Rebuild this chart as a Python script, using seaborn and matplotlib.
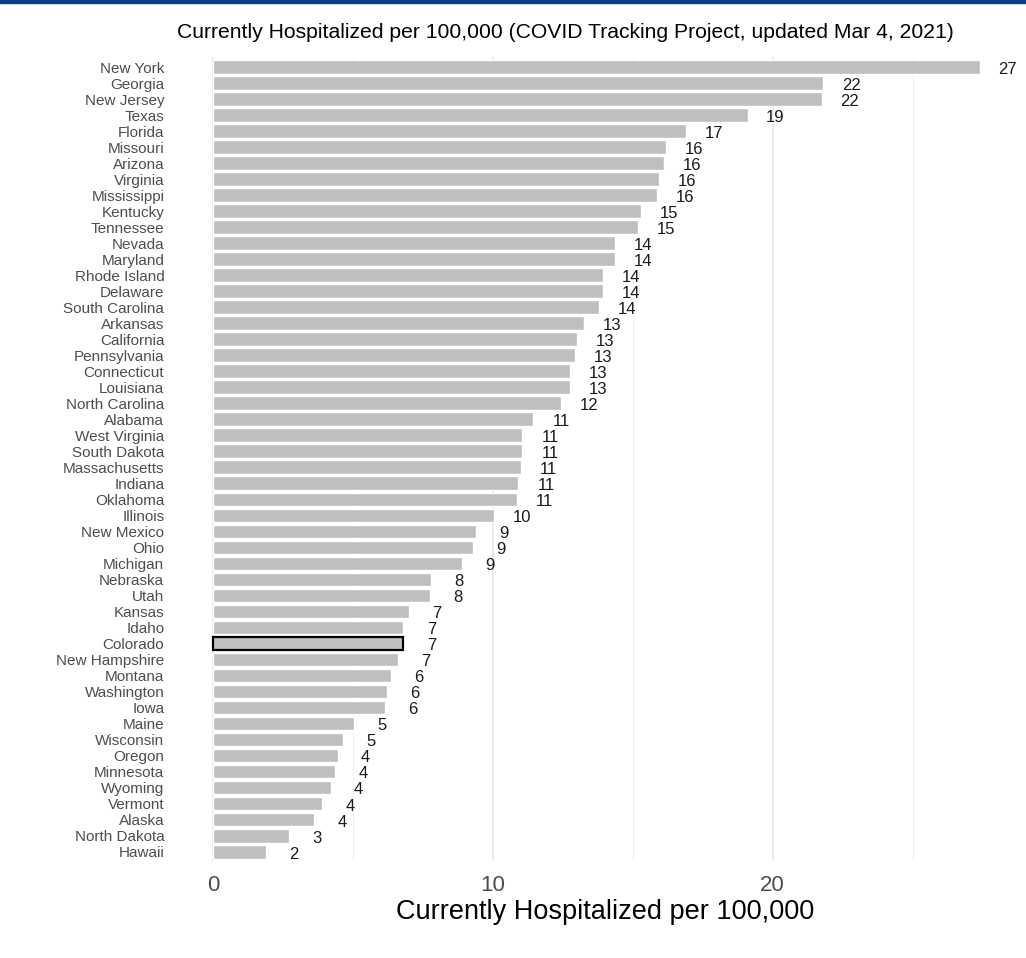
import matplotlib
matplotlib.use("Agg")
import matplotlib.pyplot as plt
import seaborn as sns
import pandas as pd

states = [
    "New York", "Georgia", "New Jersey", "Texas", "Florida", "Missouri",
    "Arizona", "Virginia", "Mississippi", "Kentucky", "Tennessee", "Nevada",
    "Maryland", "Rhode Island", "Delaware", "South Carolina", "Arkansas",
    "California", "Pennsylvania", "Connecticut", "Louisiana", "North Carolina",
    "Alabama", "West Virginia", "South Dakota", "Massachusetts", "Indiana",
    "Oklahoma", "Illinois", "New Mexico", "Ohio", "Michigan", "Nebraska",
    "Utah", "Kansas", "Idaho", "Colorado", "New Hampshire", "Montana",
    "Washington", "Iowa", "Maine", "Wisconsin", "Oregon", "Minnesota",
    "Wyoming", "Vermont", "Alaska", "North Dakota", "Hawaii",
]
hosp_per_100k = [
    27.4, 21.8, 21.75, 19.1, 16.9, 16.2,
    16.1, 15.95, 15.85, 15.3, 15.2, 14.35,
    14.35, 13.95, 13.95, 13.8, 13.25,
    13.0, 12.95, 12.75, 12.75, 12.45,
    11.45, 11.05, 11.05, 11.0, 10.9,
    10.85, 10.05, 9.4, 9.3, 8.9, 7.8,
    7.75, 7.0, 6.8, 6.8, 6.6, 6.35,
    6.2, 6.15, 5.05, 4.65, 4.45, 4.35,
    4.2, 3.9, 3.6, 2.7, 1.9,
]
highlight = "Colorado"

df = pd.DataFrame({"state": states, "value": hosp_per_100k})

sns.set_style("white")
plt.rcParams["font.family"] = ["Liberation Sans", "DejaVu Sans"]

fig = plt.figure(figsize=(10.26, 9.58), dpi=100)
ax = fig.add_axes([0.194, 0.101, 0.791, 0.839])

# grid first so bars sit on top
for gx in [0, 10, 20]:
    ax.axvline(gx, color="#e6e6e6", lw=1.1, zorder=0)
for gx in [5, 15, 25]:
    ax.axvline(gx, color="#efefef", lw=0.7, zorder=0)

sns.barplot(data=df, x="value", y="state", orient="h", color="#bfbfbf",
            width=0.86, saturation=1, ax=ax, zorder=2)

for patch, st in zip(ax.patches, states):
    if st == highlight:
        patch.set_edgecolor("black")
        patch.set_linewidth(1.6)

for i, v in enumerate(hosp_per_100k):
    ax.text(v + 1.0, i + 0.15, f"{round(v)}", ha="center", va="center",
            fontsize=12, color="#1a1a1a", zorder=3)

ax.set_xlim(-0.5, 28.5)
ax.set_ylim(len(states) - 0.4, -0.6)
ax.set_xticks([0, 10, 20])
ax.set_xticklabels(["0", "10", "20"])
ax.tick_params(axis="x", labelsize=16, labelcolor="#4d4d4d", length=0, pad=10)
ax.tick_params(axis="y", labelsize=11, labelcolor="#4d4d4d", length=0, pad=25)
ax.set_ylabel("")
ax.set_xlabel("Currently Hospitalized per 100,000", fontsize=19.5,
              color="black", labelpad=2)
sns.despine(ax=ax, left=True, bottom=True)

fig.text(565 / 1026, 1 - 33 / 958,
         "Currently Hospitalized per 100,000 (COVID Tracking Project, updated Mar 4, 2021)",
         ha="center", va="center", fontsize=15.2, color="black")

# blue rule along the top edge
fig.add_artist(plt.Rectangle((0, 1 - 3 / 958), 1, 3 / 958,
                             transform=fig.transFigure, color="#0b3a86"))

fig.savefig("out.png", dpi=100)
